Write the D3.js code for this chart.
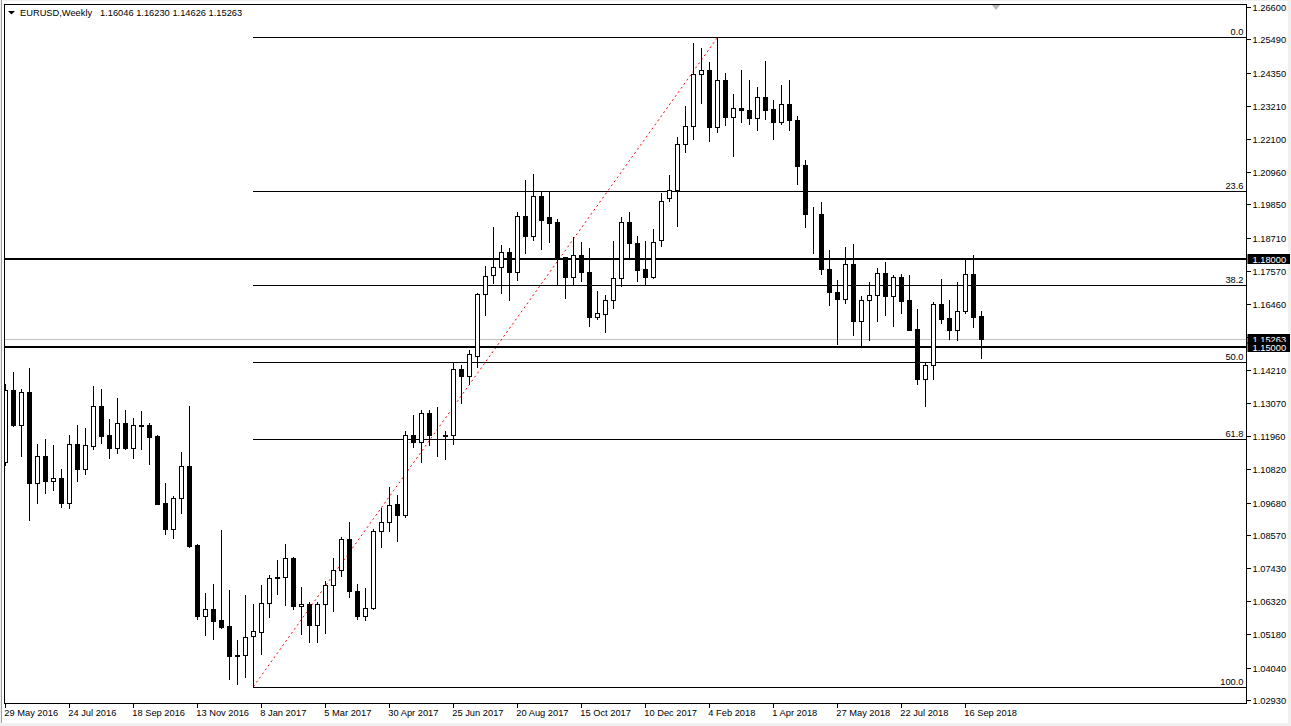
<!DOCTYPE html>
<html>
<head>
<meta charset="utf-8">
<script src="https://cdn.jsdelivr.net/npm/d3@7"></script>
<style>
  html, body { margin: 0; padding: 0; background: #f0f0f0; }
  svg { display: block; }
  text { font-family: "Liberation Sans", Arial, sans-serif; font-size: 9.3px; }
</style>
</head>
<body>
<svg id="chart" width="1291" height="726"></svg>
<script>
// ---------------- data ----------------
const symbol = "EURUSD,Weekly";
const lastQuote = ["1.16046", "1.16230", "1.14626", "1.15263"];

// weekly candles, first week = 29 May 2016
const opens = [
  1.1105, 1.1352, 1.1234, 1.1344, 1.1035, 1.1125, 1.1043, 1.1053, 1.0967, 1.1166,
  1.1083, 1.1162, 1.1296, 1.1197, 1.1155, 1.1238, 1.1155, 1.1234, 1.1232, 1.1195,
  1.0965, 1.0878, 1.0982, 1.1094, 1.0822, 1.0581, 1.0606, 1.0566, 1.0545, 1.0449,
  1.0448, 1.0513, 1.0527, 1.0625, 1.0715, 1.0714, 1.0780, 1.0616, 1.0623, 1.0550,
  1.0620, 1.0688, 1.0739, 1.0845, 1.0667, 1.0579, 1.0609, 1.0872, 1.0903, 1.0964,
  1.0926, 1.1200, 1.1173, 1.1275, 1.1200, 1.1200, 1.1197, 1.1422, 1.1401, 1.1469,
  1.1679, 1.1743, 1.1773, 1.1822, 1.1753, 1.1947, 1.1879, 1.2014, 1.1941, 1.1925,
  1.1805, 1.1739, 1.1811, 1.1754, 1.1602, 1.1613, 1.1658, 1.1733, 1.1926, 1.1854,
  1.1765, 1.1739, 1.1863, 1.2006, 1.2033, 1.2191, 1.2252, 1.2430, 1.2444, 1.2248,
  1.2410, 1.2285, 1.2314, 1.2307, 1.2279, 1.2351, 1.2310, 1.2268, 1.2327, 1.2272,
  1.2119, 1.1953, 1.1952, 1.1764, 1.1685, 1.1664, 1.1781, 1.1589, 1.1658, 1.1675,
  1.1750, 1.1674, 1.1737, 1.1659, 1.1559, 1.1390, 1.1436, 1.1644, 1.1596, 1.1558,
  1.1620, 1.1747, 1.16046
];
const highs = [
  1.1372, 1.1413, 1.1357, 1.1427, 1.1167, 1.1184, 1.1164, 1.1082, 1.1198, 1.1232,
  1.1221, 1.1365, 1.1355, 1.1252, 1.1323, 1.1282, 1.1255, 1.1280, 1.1240, 1.1197,
  1.1036, 1.0990, 1.1139, 1.1296, 1.0825, 1.0658, 1.0689, 1.0874, 1.0669, 1.0498,
  1.0652, 1.0621, 1.0685, 1.0719, 1.0773, 1.0828, 1.0782, 1.0679, 1.0630, 1.0630,
  1.0701, 1.0780, 1.0849, 1.0903, 1.0689, 1.0675, 1.0876, 1.0948, 1.1020, 1.0995,
  1.1211, 1.1265, 1.1282, 1.1282, 1.1293, 1.1211, 1.1446, 1.1436, 1.1487, 1.1682,
  1.1774, 1.1907, 1.1847, 1.1836, 1.1959, 1.2069, 1.2089, 1.2028, 1.2028, 1.1935,
  1.1805, 1.1875, 1.1857, 1.1836, 1.1690, 1.1676, 1.1862, 1.1942, 1.1960, 1.1878,
  1.1861, 1.1902, 1.2025, 1.2086, 1.2215, 1.2322, 1.2537, 1.2520, 1.2471, 1.2555,
  1.2435, 1.2363, 1.2444, 1.2410, 1.2387, 1.2474, 1.2341, 1.2394, 1.2410, 1.2288,
  1.2137, 1.1977, 1.1993, 1.1830, 1.1727, 1.1839, 1.1850, 1.1673, 1.1721, 1.1768,
  1.1789, 1.1743, 1.1747, 1.1743, 1.1628, 1.1443, 1.1651, 1.1731, 1.1659, 1.1721,
  1.1799, 1.1813, 1.16230
];
const lows = [
  1.1096, 1.1229, 1.1126, 1.0910, 1.0967, 1.0999, 1.1012, 1.0953, 1.0950, 1.1042,
  1.1066, 1.1151, 1.1172, 1.1121, 1.1138, 1.1149, 1.1121, 1.1151, 1.1100, 1.0962,
  1.0859, 1.0847, 1.0933, 1.0817, 1.0569, 1.0515, 1.0502, 1.0541, 1.0364, 1.0350,
  1.0371, 1.0340, 1.0451, 1.0577, 1.0655, 1.0617, 1.0605, 1.0518, 1.0492, 1.0492,
  1.0522, 1.0597, 1.0717, 1.0646, 1.0571, 1.0567, 1.0606, 1.0817, 1.0871, 1.0837,
  1.0919, 1.1159, 1.1107, 1.1163, 1.1127, 1.1117, 1.1168, 1.1308, 1.1372, 1.1431,
  1.1609, 1.1718, 1.1684, 1.1660, 1.1727, 1.1821, 1.1864, 1.1834, 1.1858, 1.1715,
  1.1667, 1.1714, 1.1724, 1.1571, 1.1594, 1.1551, 1.1633, 1.1707, 1.1807, 1.1724,
  1.1715, 1.1735, 1.1845, 1.1998, 1.1912, 1.2163, 1.2210, 1.2330, 1.2203, 1.2231,
  1.2255, 1.2152, 1.2265, 1.2258, 1.2238, 1.2277, 1.2210, 1.2258, 1.2240, 1.2054,
  1.1907, 1.1821, 1.1747, 1.1643, 1.1508, 1.1650, 1.1540, 1.1500, 1.1523, 1.1589,
  1.1608, 1.1572, 1.1616, 1.1558, 1.1371, 1.1298, 1.1390, 1.1582, 1.1527, 1.1523,
  1.1616, 1.1568, 1.14626
];
const closes = [
  1.1352, 1.1232, 1.1344, 1.1035, 1.1125, 1.1042, 1.1053, 1.0967, 1.1166, 1.1083,
  1.1163, 1.1296, 1.1196, 1.1155, 1.1238, 1.1155, 1.1234, 1.1230, 1.1192, 1.0963,
  1.0878, 1.0982, 1.1094, 1.0820, 1.0581, 1.0606, 1.0564, 1.0543, 1.0444, 1.0444,
  1.0508, 1.0528, 1.0625, 1.0712, 1.0712, 1.0780, 1.0614, 1.0623, 1.0550, 1.0620,
  1.0688, 1.0739, 1.0845, 1.0667, 1.0579, 1.0609, 1.0872, 1.0903, 1.0961, 1.0926,
  1.1199, 1.1173, 1.1275, 1.1200, 1.1198, 1.1196, 1.1422, 1.1401, 1.1474, 1.1679,
  1.1742, 1.1773, 1.1822, 1.1753, 1.1947, 1.1879, 1.2014, 1.1932, 1.1923, 1.1798,
  1.1739, 1.1811, 1.1753, 1.1602, 1.1614, 1.1658, 1.1734, 1.1926, 1.1852, 1.1763,
  1.1739, 1.1856, 1.1996, 1.2034, 1.2191, 1.2252, 1.2430, 1.2444, 1.2248, 1.2410,
  1.2285, 1.2313, 1.2306, 1.2279, 1.2351, 1.2309, 1.2268, 1.2327, 1.2272, 1.2118,
  1.1952, 1.1952, 1.1764, 1.1685, 1.1664, 1.1781, 1.1589, 1.1658, 1.1675, 1.1750,
  1.1674, 1.1737, 1.1657, 1.1558, 1.1390, 1.1436, 1.1644, 1.1595, 1.1558, 1.1620,
  1.1747, 1.1602, 1.15263
];

// axis labels
const priceTicks = ["1.26600","1.25490","1.24350","1.23210","1.22100","1.20960","1.19850",
  "1.18710","1.17570","1.16460","1.15320","1.14210","1.13070","1.11960","1.10820",
  "1.09680","1.08570","1.07430","1.06320","1.05180","1.04040","1.02930"];
const dateLabels = ["29 May 2016","24 Jul 2016","18 Sep 2016","13 Nov 2016","8 Jan 2017",
  "5 Mar 2017","30 Apr 2017","25 Jun 2017","20 Aug 2017","15 Oct 2017","10 Dec 2017",
  "4 Feb 2018","1 Apr 2018","27 May 2018","22 Jul 2018","16 Sep 2018"];
const dateLabelIndex = [0,8,16,24,32,40,48,56,64,72,80,88,96,104,112,120];

// horizontal levels
const hLevels = [1.18000, 1.15000];
const bidPrice = 1.15263;

// Fibonacci retracement (low candle -> high candle)
const fibLowIndex = 31, fibLowPrice = 1.0340;
const fibHighIndex = 89, fibHighPrice = 1.2555;
const fibRatios = [0.0, 23.6, 38.2, 50.0, 61.8, 100.0];

// ---------------- drawing ----------------
const W = 1291, H = 726;
const plot = { left: 4.5, top: 4.5, right: 1246.5, bottom: 703.5 };
const svg = d3.select("#chart");

// window background
svg.append("rect").attr("x", 0).attr("y", 0).attr("width", W).attr("height", H).attr("fill", "#f0f0f0");
svg.append("rect").attr("x", 2).attr("y", 1).attr("width", 1286).attr("height", 722).attr("fill", "#ffffff");
svg.append("line").attr("x1", 1.5).attr("x2", 1.5).attr("y1", 0).attr("y2", 723)
  .attr("stroke", "#a0a0a0").attr("stroke-width", 1);

const n = opens.length;
const candles = d3.range(n).map(i => ({ i, o: opens[i], h: highs[i], l: lows[i], c: closes[i] }));

const x = d3.scaleLinear().domain([0, n - 1]).range([5.5, 5.5 + 8 * (n - 1)]);
const y = d3.scaleLinear().domain([1.0293, 1.266]).range([700.3, 6.7]);
const snap = v => Math.round(v) + 0.5;

const g = svg.append("g");
svg.append("clipPath").attr("id", "plotclip")
  .append("rect").attr("x", plot.left).attr("y", plot.top)
  .attr("width", plot.right - plot.left).attr("height", plot.bottom - plot.top);
const pg = g.append("g").attr("clip-path", "url(#plotclip)");

// bid line
pg.append("line").attr("x1", plot.left).attr("x2", plot.right)
  .attr("y1", snap(y(bidPrice))).attr("y2", snap(y(bidPrice)))
  .attr("stroke", "#c0c0c0").attr("stroke-width", 1).attr("shape-rendering", "crispEdges");

// fib lines
const fibX1 = x(fibLowIndex) - 0.5;
const fibGroup = pg.append("g");
fibRatios.forEach(r => {
  const price = fibHighPrice - (fibHighPrice - fibLowPrice) * r / 100;
  const yy = snap(y(price));
  fibGroup.append("line").attr("x1", fibX1).attr("x2", plot.right)
    .attr("y1", yy).attr("y2", yy).attr("stroke", "#000").attr("stroke-width", 1)
    .attr("shape-rendering", "crispEdges");
  fibGroup.append("text").attr("x", plot.right - 3).attr("y", yy - 2.5)
    .attr("text-anchor", "end").attr("fill", "#000").text(r.toFixed(1));
});

// trend line (dotted red)
pg.append("line")
  .attr("x1", x(fibLowIndex)).attr("y1", y(fibLowPrice))
  .attr("x2", x(fibHighIndex)).attr("y2", y(fibHighPrice))
  .attr("stroke", "#ff0000").attr("stroke-width", 1).attr("stroke-dasharray", "2,3");

// thick horizontal levels
hLevels.forEach(p => {
  const yy = Math.round(y(p));
  pg.append("line").attr("x1", plot.left).attr("x2", plot.right)
    .attr("y1", yy).attr("y2", yy).attr("stroke", "#000").attr("stroke-width", 2)
    .attr("shape-rendering", "crispEdges");
});

// candles
const cg = pg.append("g").attr("shape-rendering", "crispEdges");
cg.selectAll("line.wick").data(candles).join("line").attr("class", "wick")
  .attr("x1", d => x(d.i)).attr("x2", d => x(d.i))
  .attr("y1", d => Math.round(y(d.h))).attr("y2", d => Math.round(y(d.l)) + 1)
  .attr("stroke", "#000").attr("stroke-width", 1);
cg.selectAll("rect.body").data(candles).join("rect").attr("class", "body")
  .attr("x", d => x(d.i) - 2)
  .attr("y", d => snap(y(Math.max(d.o, d.c))))
  .attr("width", 4)
  .attr("height", d => Math.max(0, Math.round(y(Math.min(d.o, d.c))) - Math.round(y(Math.max(d.o, d.c)))))
  .attr("fill", d => d.c > d.o ? "#ffffff" : "#000000")
  .attr("stroke", "#000").attr("stroke-width", 1);

// plot frame
const frame = g.append("g").attr("shape-rendering", "crispEdges");
frame.append("rect").attr("x", plot.left).attr("y", plot.top)
  .attr("width", plot.right - plot.left).attr("height", plot.bottom - plot.top)
  .attr("fill", "none").attr("stroke", "#000").attr("stroke-width", 1);

// right price axis
const ax = g.append("g");
priceTicks.forEach(t => {
  const yy = Math.round(y(+t)) + 0.5;
  ax.append("line").attr("x1", plot.right).attr("x2", plot.right + 4)
    .attr("y1", yy).attr("y2", yy).attr("stroke", "#000").attr("shape-rendering", "crispEdges");
  ax.append("text").attr("x", plot.right + 6).attr("y", yy + 3.3).attr("fill", "#000").text(t);
});

// highlighted price labels
function priceBox(p) {
  const yy = y(p);
  ax.append("rect").attr("x", plot.right + 1).attr("y", Math.round(yy) - 5)
    .attr("width", 1290 - plot.right - 1).attr("height", 10).attr("fill", "#000");
  ax.append("text").attr("x", plot.right + 6).attr("y", Math.round(yy) + 3.5)
    .attr("fill", "#fff").text(p.toFixed(5));
}
priceBox(hLevels[0]);
priceBox(bidPrice);
priceBox(hLevels[1]);

// bottom date axis
dateLabelIndex.forEach((idx, k) => {
  const xx = x(idx);
  ax.append("line").attr("x1", xx).attr("x2", xx).attr("y1", plot.bottom).attr("y2", plot.bottom + 4)
    .attr("stroke", "#000").attr("shape-rendering", "crispEdges");
  ax.append("text").attr("x", xx - 1.2).attr("y", 716).attr("fill", "#000").text(dateLabels[k]);
});

// title
ax.append("path").attr("d", "M8,11 L15,11 L11.5,14.5 Z").attr("fill", "#000");
ax.append("text").attr("x", 20).attr("y", 16).attr("fill", "#000").text(symbol);
ax.append("text").attr("x", 100).attr("y", 16).attr("fill", "#000").text(lastQuote.join(" "));

// chart shift marker (top right)
ax.append("path").attr("d", "M992,5 L1000,5 L996,10 Z").attr("fill", "#b8b8b8");
</script>
</body>
</html>
